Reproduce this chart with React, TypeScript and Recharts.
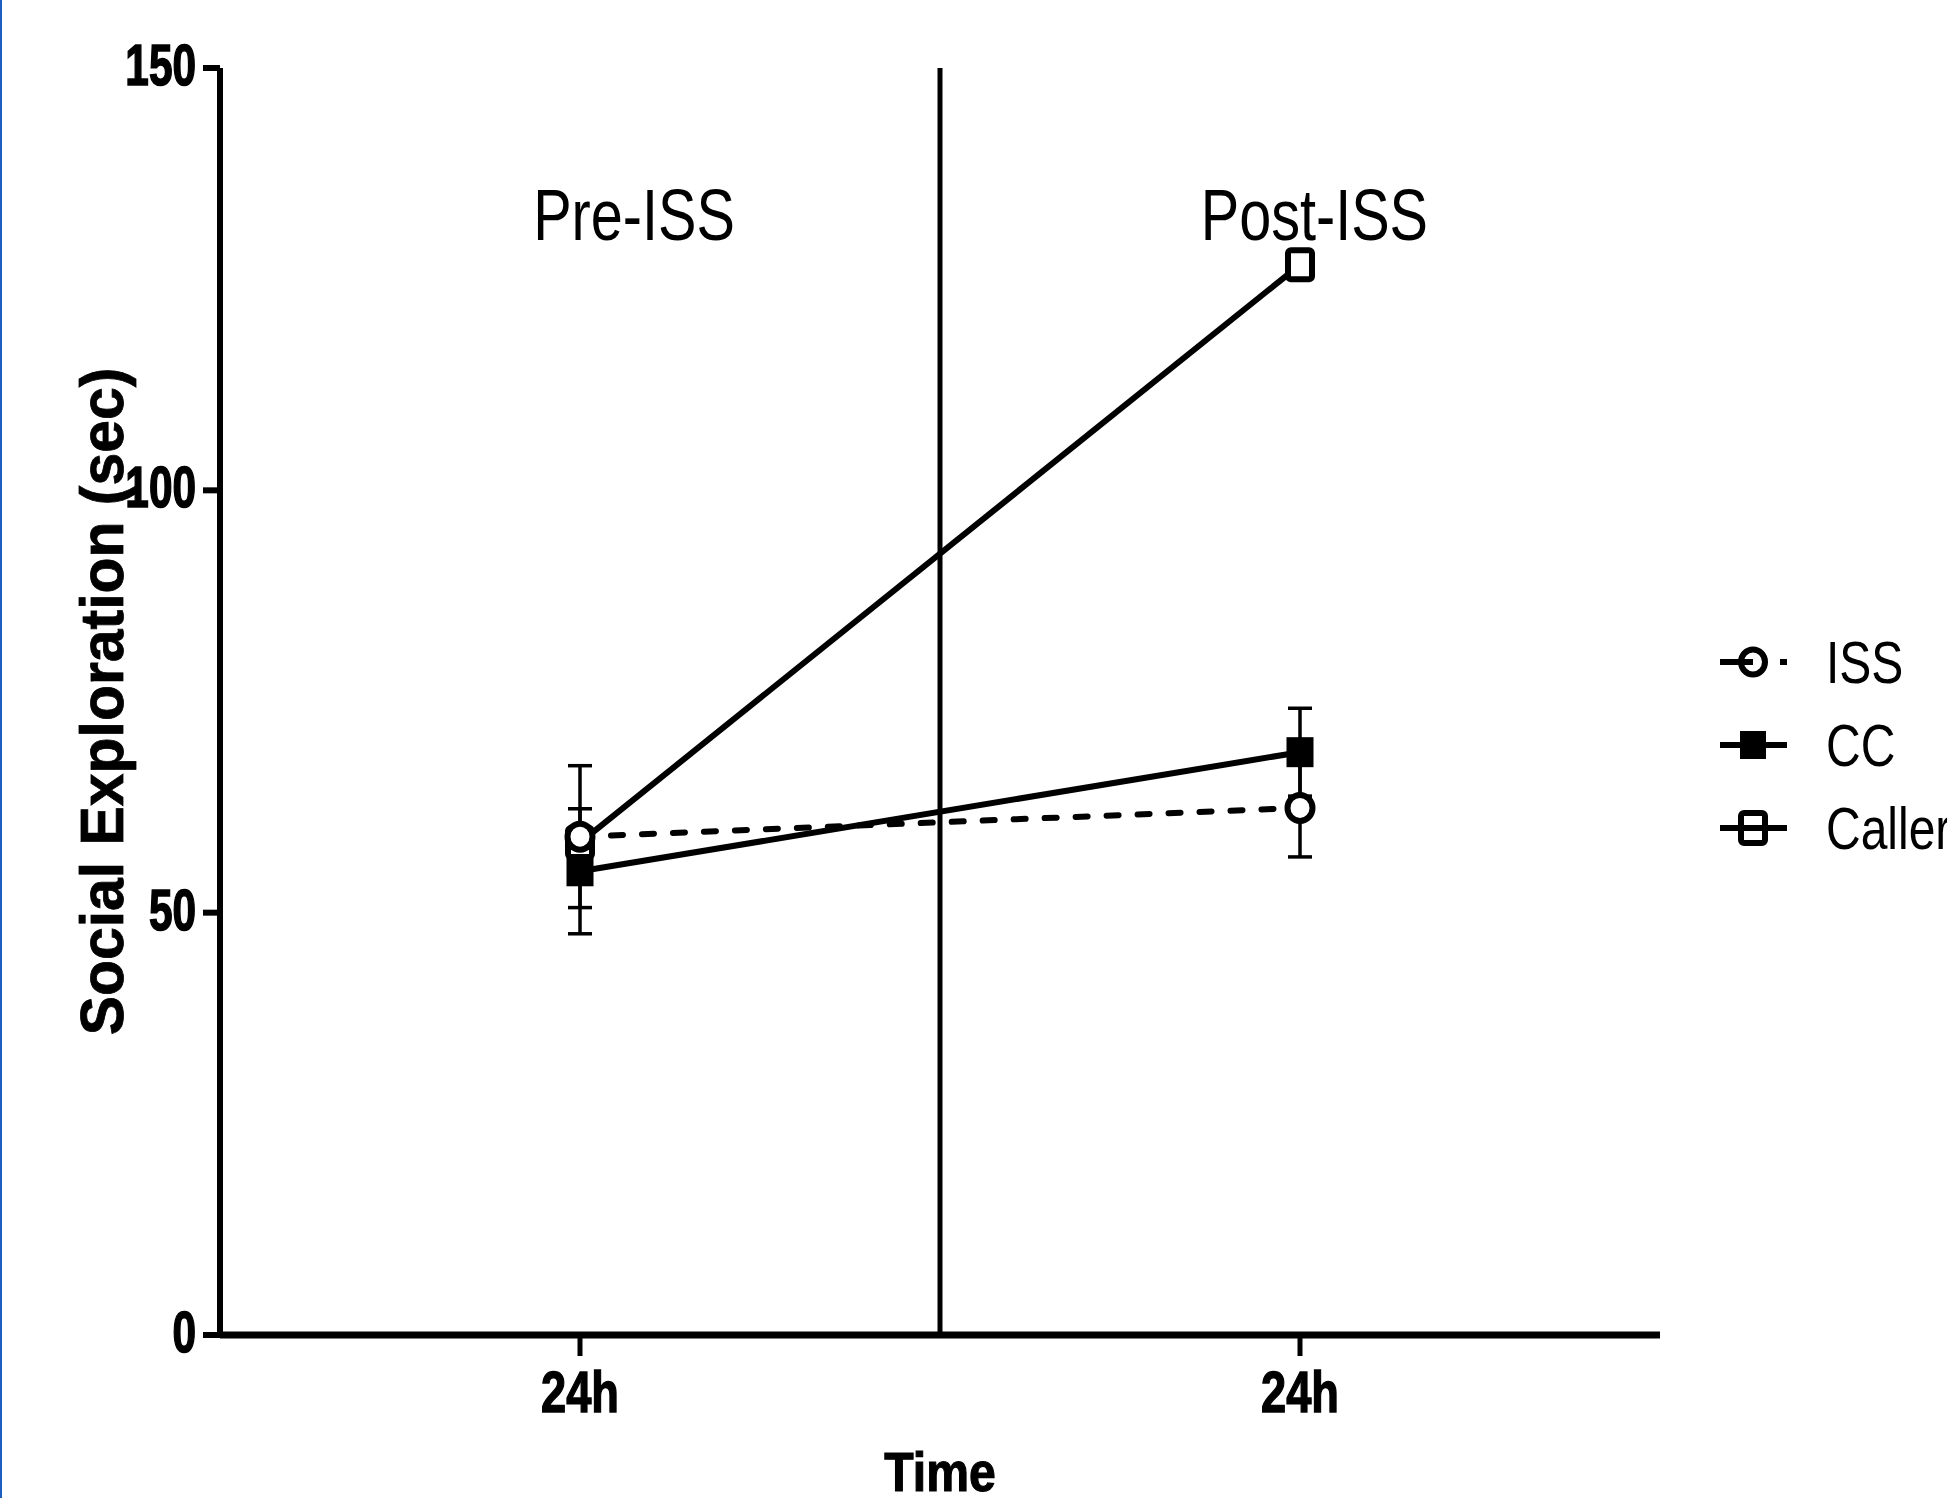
// Social exploration before / after ISS (Prism-style line chart)

import React from "react";
import { ErrorBar, Label, Legend, Line, LineChart, ReferenceDot, ReferenceLine, XAxis, YAxis } from "recharts";

const timePoints = [1, 3];
const timeLabels = ["24h", "24h"];
const phaseNames = ["Pre-ISS", "Post-ISS"];
const phaseX = [1.15, 3.04];
const phaseY = 129.6;
const yTicks = [0, 50, 100, 150];

const issMean = [59.0, 62.4];
const issSem = [8.4, 5.8];
const ccMean = [54.9, 69.0];
const ccSem = [7.4, 5.2];
const callerMean = [58.3, 126.7];

const seriesNames = ["ISS", "CC", "Caller"];

const data = timePoints.map((t, i) => ({
  t,
  iss: issMean[i],
  issErr: issSem[i],
  cc: ccMean[i],
  ccErr: ccSem[i],
  caller: callerMean[i],
}));

const FONT = "'Liberation Sans', Arial, sans-serif";

const IssDot = (p: any) => {
  if (p.cx == null || p.cy == null) return <g key={p.index} />;
  return <ellipse key={p.index} cx={p.cx} cy={p.cy} rx={12.5} ry={13} fill="#fff" stroke="#000" strokeWidth={6} />;
};

const CcDot = (p: any) => {
  if (p.cx == null || p.cy == null) return <g key={p.index} />;
  return <rect key={p.index} x={p.cx - 13.5} y={p.cy - 15} width={27} height={30} fill="#000" />;
};

const CallerDot = (p: any) => {
  if (p.cx == null || p.cy == null) return <g key={p.index} />;
  return (
    <rect key={p.index} x={p.cx - 12} y={p.cy - 14.5} width={24} height={29} rx={3} fill="#fff" stroke="#000" strokeWidth={6} />
  );
};

const YTick = (props: any) => {
  const { x, y, payload } = props;
  return (
    <text
      transform={`translate(${x},${y + 17}) scale(0.73,1)`}
      textAnchor="end"
      fontFamily={FONT}
      fontWeight="bold"
      fontSize={58}
      fill="#000"
      stroke="#000"
      strokeWidth={1.6}
    >
      {payload.value}
    </text>
  );
};

const XTick = (props: any) => {
  const { x, y, payload } = props;
  const idx = timePoints.indexOf(payload.value);
  return (
    <text
      transform={`translate(${x},${y + 56}) scale(0.78,1)`}
      textAnchor="middle"
      fontFamily={FONT}
      fontWeight="bold"
      fontSize={58}
      fill="#000"
      stroke="#000"
      strokeWidth={1.4}
    >
      {idx >= 0 ? timeLabels[idx] : ""}
    </text>
  );
};

const XTitle = (props: any) => {
  const vb = props.viewBox || { x: 220, y: 1335, width: 1440 };
  return (
    <text
      transform={`translate(${vb.x + vb.width / 2},${vb.y + 156}) scale(0.86,1)`}
      textAnchor="middle"
      fontFamily={FONT}
      fontWeight="bold"
      fontSize={56}
      fill="#000"
      stroke="#000"
      strokeWidth={1.2}
    >
      Time
    </text>
  );
};

const YTitle = (props: any) => {
  const vb = props.viewBox || { x: 0, y: 68, width: 220, height: 1267 };
  return (
    <text
      transform={`translate(123,${vb.y + vb.height / 2}) rotate(-90) scale(0.95,1)`}
      textAnchor="middle"
      fontFamily={FONT}
      fontWeight="bold"
      fontSize={62}
      fill="#000"
      stroke="#000"
      strokeWidth={0.8}
    >
      Social Exploration (sec)
    </text>
  );
};

const PhaseText = (name: string) => (p: any) => (
  <text transform={`translate(${p.cx},${p.cy}) scale(0.8,1)`} textAnchor="middle" fontFamily={FONT} fontSize={72} fill="#000">
    {name}
  </text>
);

const LegendIcon = ({ name, cy }: { name: string; cy: number }) => {
  if (name === "ISS") {
    return (
      <g>
        <ellipse cx={53} cy={cy} rx={12} ry={12.5} fill="#fff" stroke="#000" strokeWidth={6} />
        <line x1={20} y1={cy} x2={53} y2={cy} stroke="#000" strokeWidth={6} />
        <line x1={80} y1={cy} x2={87} y2={cy} stroke="#000" strokeWidth={6} />
      </g>
    );
  }
  if (name === "CC") {
    return (
      <g>
        <line x1={20} y1={cy} x2={87} y2={cy} stroke="#000" strokeWidth={6} />
        <rect x={40} y={cy - 14} width={26} height={28} fill="#000" />
      </g>
    );
  }
  return (
    <g>
      <rect x={41} y={cy - 15} width={24} height={30} rx={3} fill="#fff" stroke="#000" strokeWidth={6} />
      <line x1={20} y1={cy} x2={87} y2={cy} stroke="#000" strokeWidth={6} />
    </g>
  );
};

const LegendContent = () => (
  <svg width={247} height={270} style={{ display: "block" }}>
    {seriesNames.map((name, i) => {
      const cy = 62 + i * 83;
      return (
        <g key={name}>
          <LegendIcon name={name} cy={cy} />
          <text transform={`translate(126,${cy + 21}) scale(0.8,1)`} fontFamily={FONT} fontSize={60} fill="#000">
            {name}
          </text>
        </g>
      );
    })}
  </svg>
);

export default function App() {
  return (
    <div style={{ position: "relative", width: 1947, height: 1498, background: "#fff" }}>
      <style>{`body{margin:0;}`}</style>
      <div style={{ position: "absolute", left: 0, top: 0, width: 2, height: 1498, background: "#1c5fbf" }} />
      <LineChart width={1947} height={1498} data={data} margin={{ top: 68, right: 287, bottom: 0, left: 0 }}>
        <XAxis
          dataKey="t"
          type="number"
          domain={[0, 4]}
          ticks={timePoints}
          height={163}
          tickSize={21}
          tickMargin={0}
          tick={<XTick />}
          axisLine={{ stroke: "#000", strokeWidth: 7 }}
          tickLine={{ stroke: "#000", strokeWidth: 5 }}
        >
          <Label content={XTitle} />
        </XAxis>
        <YAxis
          type="number"
          domain={[0, 150]}
          ticks={yTicks}
          width={220}
          tickSize={17}
          tickMargin={7}
          tick={<YTick />}
          axisLine={{ stroke: "#000", strokeWidth: 6 }}
          tickLine={{ stroke: "#000", strokeWidth: 6 }}
        >
          <Label content={YTitle} />
        </YAxis>
        <ReferenceLine x={2} stroke="#000" strokeWidth={5} />
        {phaseNames.map((name, i) => (
          <ReferenceDot key={name} x={phaseX[i]} y={phaseY} r={0} shape={PhaseText(name)} />
        ))}

        {/* error bars underneath the markers */}
        <Line dataKey="cc" stroke="none" dot={false} activeDot={false} legendType="none" isAnimationActive={false}>
          <ErrorBar dataKey="ccErr" direction="y" width={12} stroke="#000" strokeWidth={3.5} />
        </Line>
        <Line dataKey="iss" stroke="none" dot={false} activeDot={false} legendType="none" isAnimationActive={false}>
          <ErrorBar dataKey="issErr" direction="y" width={12} stroke="#000" strokeWidth={3.5} />
        </Line>

        {/* markers */}
        <Line dataKey="caller" stroke="none" dot={CallerDot} activeDot={false} legendType="none" isAnimationActive={false} />
        <Line dataKey="iss" stroke="none" dot={IssDot} activeDot={false} legendType="none" isAnimationActive={false} />
        <Line dataKey="cc" stroke="none" dot={CcDot} activeDot={false} legendType="none" isAnimationActive={false} />

        {/* connecting lines drawn over the markers, like the original */}
        <Line type="linear" dataKey="iss" name="ISS" stroke="#000" strokeWidth={6} strokeDasharray="12 19" strokeLinecap="round" dot={false} activeDot={false} isAnimationActive={false} />
        <Line type="linear" dataKey="cc" name="CC" stroke="#000" strokeWidth={6} dot={false} activeDot={false} isAnimationActive={false} />
        <Line type="linear" dataKey="caller" name="Caller" stroke="#000" strokeWidth={6} dot={false} activeDot={false} isAnimationActive={false} />

        <Legend
          layout="vertical"
          align="center"
          verticalAlign="middle"
          content={LegendContent}
          wrapperStyle={{ left: 1700, top: 600, width: 247, height: 270, overflow: "hidden" }}
        />
      </LineChart>
    </div>
  );
}
